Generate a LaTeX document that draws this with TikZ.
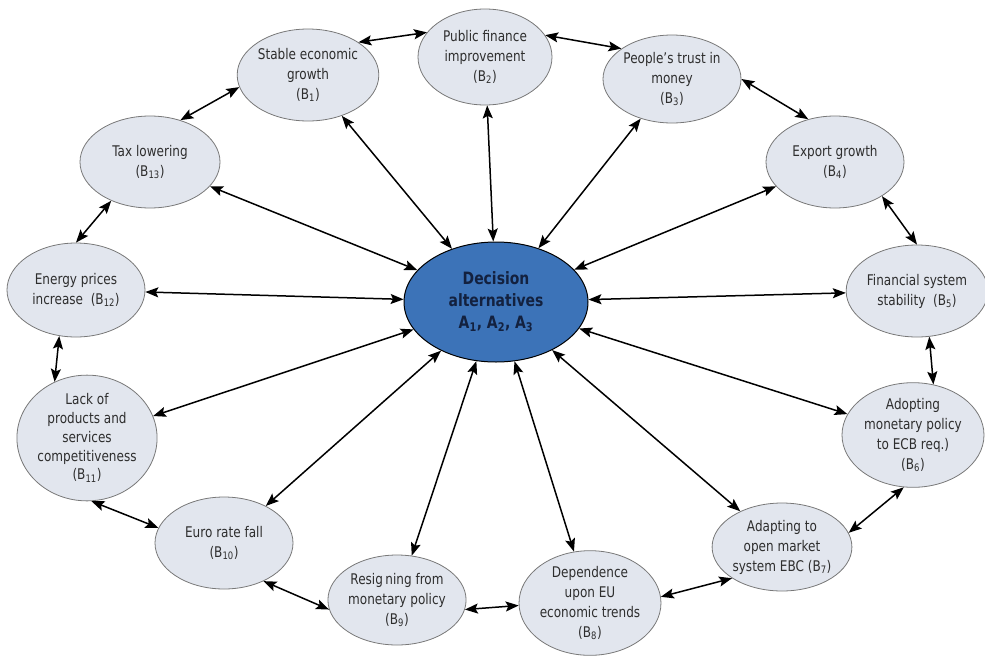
\documentclass[tikz,border=0pt]{standalone}
\usepackage{fontspec}
\setmainfont{DejaVu Sans}[FakeStretch=0.82]
\usetikzlibrary{arrows.meta,shapes.geometric}
\definecolor{factorfill}{HTML}{E2E6EE}
\definecolor{factorline}{HTML}{787878}
\definecolor{hubfill}{HTML}{3C73B8}
\definecolor{hubtext}{HTML}{13213F}
\tikzset{
    factor/.style={ellipse,draw=factorline,line width=0.8pt,fill=factorfill,inner sep=0pt,
        minimum width=138pt,minimum height=92pt,align=center,text=black!82,
        font=\fontsize{14.7}{20}\selectfont},
    hub/.style={ellipse,draw=black,line width=1pt,fill=hubfill,inner sep=0pt,
        minimum width=184pt,minimum height=120pt,align=center,text=hubtext,
        font=\fontsize{17}{22}\selectfont\bfseries},
    link/.style={line width=1.5pt,
        {Stealth[length=13pt,width=10pt,inset=2.5pt]}-{Stealth[length=13pt,width=10pt,inset=2.5pt]}}
}
\begin{document}
\begin{tikzpicture}[x=1pt,y=-1pt]
        \useasboundingbox (0,0) rectangle (985,656);
        \node[hub] (hub) at (496,302) {Decision\\alternatives\\A\textsubscript{1}, A\textsubscript{2}, A\textsubscript{3}};
        % ring of factors
        \node[factor] (b1) at (308,75) {Stable economic\\growth\\(B\textsubscript{1})};
        \node[factor,minimum width=134pt,minimum height=96pt] (b2) at (485,57) {Public finance\\improvement\\(B\textsubscript{2})};
        \node[factor,minimum height=88pt] (b3) at (672,79) {People's trust in\\money\\(B\textsubscript{3})};
        \node[factor] (b4) at (835,162) {Export growth\\(B\textsubscript{4})};
        \node[factor] (b5) at (917,291) {Financial system\\stability~ (B\textsubscript{5})};
        \node[factor,minimum width=142pt,minimum height=100pt] (b6) at (913,435) {Adopting\\monetary policy\\to ECB req.)\\(B\textsubscript{6})};
        \node[factor,minimum width=132pt,minimum height=88pt] (b7) at (782,547) {Adapting to\\open market\\system EBC (B\textsubscript{7})};
        \node[factor,minimum width=134pt,minimum height=100pt] (b8) at (590,603) {Dependence\\upon EU\\economic trends\\(B\textsubscript{8})};
        \node[factor,minimum width=134pt,minimum height=90pt] (b9) at (397,600) {Resig\,ning from\\monetary policy\\(B\textsubscript{9})};
        \node[factor] (b10) at (224,543) {Euro rate fall\\(B\textsubscript{10})};
        \node[factor,minimum height=94pt,font=\fontsize{14.7}{18.8}\selectfont] (b11) at (87,438) {Lack of\\products and\\services\\competitiveness\\(B\textsubscript{11})};
        \node[factor,minimum height=94pt] (b12) at (76,290) {Energy prices\\increase~ (B\textsubscript{12})};
        \node[factor,minimum width=140pt] (b13) at (150,162) {Tax lowering\\(B\textsubscript{13})};
        % links round the ring
        \foreach \a/\b in {b1.33/b2.157,b2.20/b3.149,b3.0/b4.122,b4.-36/b5.90,
            b5.-75/b6.68,b6.-100/b7.12,b7.212/b8.5,b8.182/b9.-8,b9.188/b10.-44,
            b10.167/b11.-86,b11.120/b12.-110,b12.90/b13.-135,b13.54/b1.190}{
            \draw[link] (\a) -- (\b);
        }
        % links to the decision
        \foreach \i in {1,...,13}{
            \draw[link] (b\i) -- (hub);
        }
\end{tikzpicture}
\end{document}
